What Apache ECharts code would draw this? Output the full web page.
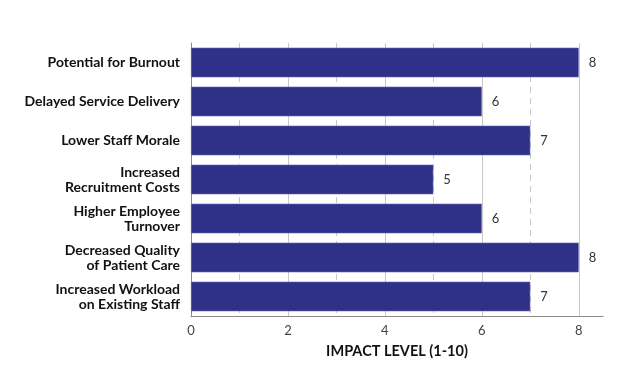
<!DOCTYPE html>
<html>
<head>
<meta charset="utf-8">
<script src="https://cdn.jsdelivr.net/npm/echarts@6/dist/echarts.min.js"></script>
<style>
  html, body { margin: 0; padding: 0; background: #fff; }
  #chart { width: 627px; height: 376px; }
</style>
</head>
<body>
<div id="chart"></div>
<script>
  var categories = [
    'Potential for Burnout',
    'Delayed Service Delivery',
    'Lower Staff Morale',
    'Increased\nRecruitment Costs',
    'Higher Employee\nTurnover',
    'Decreased Quality\nof Patient Care',
    'Increased Workload\non Existing Staff'
  ]
  var impactValues = [8, 6, 7, 5, 6, 8, 7]
  var axisMax = 8.5

  var chart = echarts.init(document.getElementById('chart'))

  var grey = '#c8c8c8'

  chart.setOption({
    backgroundColor: '#ffffff',
    animation: false,
    grid: {
      left: 191,
      right: 24,
      top: 43,
      bottom: 60
    },
    xAxis: [
      {
        type: 'value',
        min: 0,
        max: axisMax,
        interval: 2,
        name: 'IMPACT LEVEL (1-10)',
        nameLocation: 'middle',
        nameGap: 28,
        nameTextStyle: {
          fontFamily: 'Lato',
          fontWeight: 'bold',
          fontSize: 14.5,
          color: '#111'
        },
        axisLine: { show: true, lineStyle: { color: '#8a8a8a', width: 1 } },
        axisTick: { show: false },
        axisLabel: {
          fontFamily: 'Lato',
          fontSize: 13,
          color: '#444',
          margin: 8,
          showMaxLabel: false
        },
        splitLine: {
          show: true,
          // last line (at axisMax) made invisible
          lineStyle: { color: [grey, grey, grey, grey, grey, 'rgba(0,0,0,0)'], width: 1 }
        }
      },
      {
        type: 'value',
        min: 0,
        max: axisMax,
        interval: 1,
        position: 'bottom',
        axisLine: { show: false },
        axisTick: { show: false },
        axisLabel: { show: false },
        splitLine: {
          show: true,
          lineStyle: {
            color: [grey, grey, grey, grey, grey, grey, grey, grey, grey, 'rgba(0,0,0,0)'],
            type: [6, 5],
            width: 1
          }
        }
      }
    ],
    yAxis: {
      type: 'category',
      data: categories,
      inverse: true,
      axisLine: { show: true, lineStyle: { color: '#8a8a8a', width: 1 } },
      axisTick: { show: false },
      axisLabel: {
        fontFamily: 'Lato',
        fontWeight: 'bold',
        fontSize: 14,
        color: '#111',
        lineHeight: 15,
        margin: 11,
        align: 'right'
      }
    },
    series: [
      {
        type: 'bar',
        data: impactValues,
        xAxisIndex: 0,
        barWidth: '76%',
        itemStyle: {
          color: '#2f3188',
          borderColor: '#6a6cb4',
          borderWidth: 0.6
        },
        label: {
          show: true,
          position: 'right',
          distance: 10,
          fontFamily: 'Lato',
          fontSize: 13,
          color: '#333'
        },
        z: 3
      }
    ]
  })
</script>
</body>
</html>
